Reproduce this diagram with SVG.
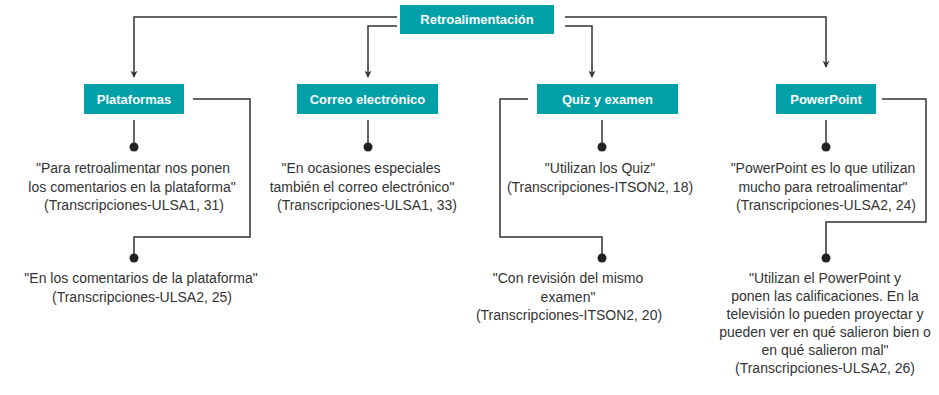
<svg xmlns="http://www.w3.org/2000/svg" width="939" height="395" viewBox="0 0 939 395">
<defs>
<marker id="arr" viewBox="0 0 10 10" refX="9" refY="5" markerWidth="7" markerHeight="7" markerUnits="userSpaceOnUse" orient="auto">
<path d="M0,0 L10,5 L0,10 L3,5 z" fill="#333"/>
</marker>
<style>
.box{fill:#00A0A8}
.lbl{font-family:"Liberation Sans",Arial,sans-serif;font-weight:bold;font-size:13px;fill:#fff;text-anchor:middle}
.q{font-family:"Liberation Sans",Arial,sans-serif;font-size:14px;fill:#333;text-anchor:middle}
.ln{fill:none;stroke:#333;stroke-width:1.5}
.dot{fill:#222}
</style>
</defs>
<rect width="939" height="395" fill="#fff"/>
<g id="connectors">
<path class="ln" d="M397,17 H134 V77" marker-end="url(#arr)"/>
<path class="ln" d="M397,26 H368 V77" marker-end="url(#arr)"/>
<path class="ln" d="M565,26 H592 V77" marker-end="url(#arr)"/>
<path class="ln" d="M565,17 H826 V67" marker-end="url(#arr)"/>
<path class="ln" d="M134,120 V147"/>
<path class="ln" d="M193,99 H250 V237 H134 V258"/>
<path class="ln" d="M368,120 V147"/>
<path class="ln" d="M602,120 V147"/>
<path class="ln" d="M528,99 H500 V237 H602 V258"/>
<path class="ln" d="M826,120 V147"/>
<path class="ln" d="M882,99 H926 V222 H826 V258"/>
<circle class="dot" cx="134" cy="147" r="4.5"/>
<circle class="dot" cx="134" cy="258" r="4.5"/>
<circle class="dot" cx="368" cy="147" r="4.5"/>
<circle class="dot" cx="602" cy="147" r="4.5"/>
<circle class="dot" cx="602" cy="258" r="4.5"/>
<circle class="dot" cx="826" cy="147" r="4.5"/>
<circle class="dot" cx="826" cy="258" r="4.5"/>
</g>
<g id="retroalimentacion">
<rect class="box" x="400" y="5" width="154" height="29"/>
<text class="lbl" x="477" y="24">Retroalimentación</text>
</g>
<g id="plataformas">
<rect class="box" x="84" y="84" width="100" height="30"/>
<text class="lbl" x="134" y="104">Plataformas</text>
</g>
<g id="correo">
<rect class="box" x="297" y="84" width="141" height="30"/>
<text class="lbl" x="367.5" y="104">Correo electrónico</text>
</g>
<g id="quiz">
<rect class="box" x="537" y="84" width="141" height="30"/>
<text class="lbl" x="607.5" y="104">Quiz y examen</text>
</g>
<g id="powerpoint">
<rect class="box" x="776" y="84" width="100" height="30"/>
<text class="lbl" x="826" y="104">PowerPoint</text>
</g>
<g id="q-plataformas-1">
<text class="q" x="133" y="173">"Para retroalimentar nos ponen</text>
<text class="q" x="132" y="191.5">los comentarios en la plataforma"</text>
<text class="q" x="134" y="210">(Transcripciones-ULSA1, 31)</text>
</g>
<g id="q-plataformas-2">
<text class="q" x="141" y="283">"En los comentarios de la plataforma"</text>
<text class="q" x="142" y="301.5">(Transcripciones-ULSA2, 25)</text>
</g>
<g id="q-correo">
<text class="q" x="361" y="173">"En ocasiones especiales</text>
<text class="q" x="362" y="191.5">también el correo electrónico"</text>
<text class="q" x="367" y="210">(Transcripciones-ULSA1, 33)</text>
</g>
<g id="q-quiz-1">
<text class="q" x="600" y="173">"Utilizan los Quiz"</text>
<text class="q" x="600" y="191.5">(Transcripciones-ITSON2, 18)</text>
</g>
<g id="q-quiz-2">
<text class="q" x="568" y="283">"Con revisión del mismo</text>
<text class="q" x="568" y="301.5">examen"</text>
<text class="q" x="569" y="320">(Transcripciones-ITSON2, 20)</text>
</g>
<g id="q-powerpoint-1">
<text class="q" x="823" y="173">"PowerPoint es lo que utilizan</text>
<text class="q" x="823" y="191.5">mucho para retroalimentar"</text>
<text class="q" x="826" y="210">(Transcripciones-ULSA2, 24)</text>
</g>
<g id="q-powerpoint-2">
<text class="q" x="825" y="283">"Utilizan el PowerPoint y</text>
<text class="q" x="825" y="301">ponen las calificaciones. En la</text>
<text class="q" x="825" y="319">televisión lo pueden proyectar y</text>
<text class="q" x="825" y="337">pueden ver en qué salieron bien o</text>
<text class="q" x="825" y="355">en qué salieron mal"</text>
<text class="q" x="825" y="373">(Transcripciones-ULSA2, 26)</text>
</g>
</svg>
